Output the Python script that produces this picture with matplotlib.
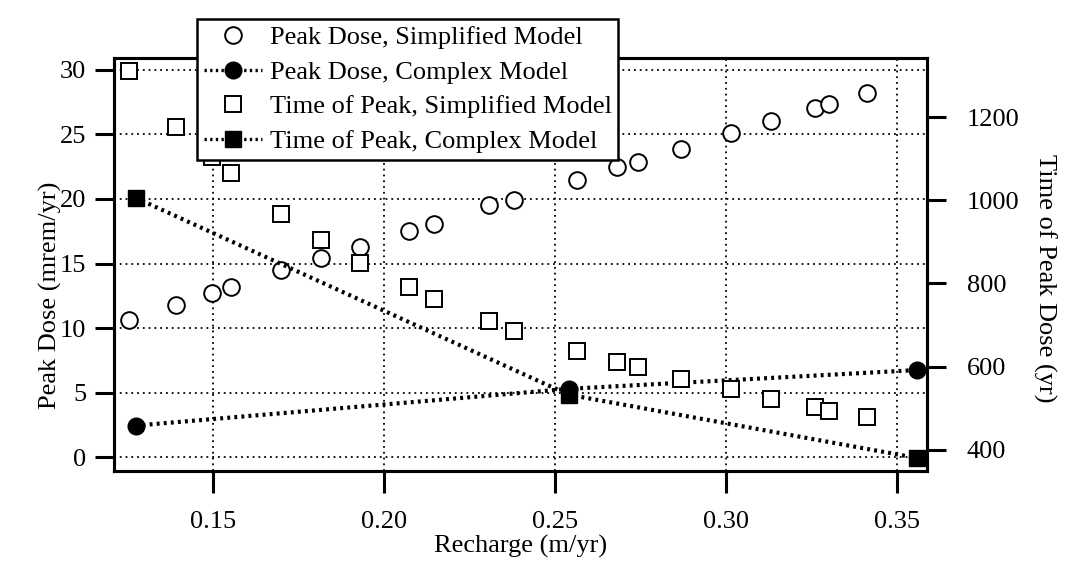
import matplotlib
matplotlib.use("Agg")
import matplotlib.pyplot as plt
from matplotlib.lines import Line2D

plt.rcParams['font.family'] = ['Liberation Serif', 'DejaVu Serif']
plt.rcParams['font.size'] = 19

# simplified model (circles: dose, squares: time of peak)
recharge = [0.1255, 0.1393, 0.1497, 0.1553, 0.1700, 0.1817, 0.1929, 0.2074,
            0.2147, 0.2308, 0.2380, 0.2565, 0.2681, 0.2741, 0.2869, 0.3013,
            0.3131, 0.3260, 0.3300, 0.3410]
dose_simple = [10.6, 11.8, 12.75, 13.15, 14.5, 15.45, 16.3, 17.55, 18.1, 19.5,
               19.95, 21.5, 22.5, 22.9, 23.9, 25.1, 26.0, 27.05, 27.35, 28.2]
time_simple = [1312, 1177, 1105, 1065, 966, 905, 849, 791, 763, 710, 686,
               638, 610, 598, 570, 545, 522, 502, 494, 479]

# complex model
recharge_complex = [0.1274, 0.2540, 0.3556]
dose_complex = [2.45, 5.3, 6.75]
time_complex = [1006, 532, 380]

x_ticks = [0.15, 0.20, 0.25, 0.30, 0.35]
dose_ticks = [0, 5, 10, 15, 20, 25, 30]
time_ticks = [400, 600, 800, 1000, 1200]

fig = plt.figure(figsize=(10.65, 5.65), dpi=100)
ax = fig.add_axes([0.107, 0.166, 0.763, 0.731])
ax2 = ax.twinx()

dots = (0, (1, 2.2))
ax.grid(True, linestyle=dots, color='black', linewidth=1.3)
ax.set_axisbelow(True)

cplx = (0, (0.7, 1.0))
ax.plot(recharge, dose_simple, linestyle='none', marker='o', ms=12,
        mfc='white', mec='black', mew=1.4)
ax.plot(recharge_complex, dose_complex, linestyle=cplx, lw=3.0,
        color='black', marker='o', ms=12)
ax2.plot(recharge, time_simple, linestyle='none', marker='s', ms=11.5,
         mfc='white', mec='black', mew=1.4)
ax2.plot(recharge_complex, time_complex, linestyle=cplx, lw=3.0,
         color='black', marker='s', ms=11.5)

ax.set_xlim(0.1211, 0.3585)
ax.set_ylim(-1.08, 30.9)
ax2.set_ylim(348, 1342)
ax.set_xticks(x_ticks)
ax.set_xticklabels(['%.2f' % v for v in x_ticks])
ax.set_yticks(dose_ticks)
ax2.set_yticks(time_ticks)

for a in (ax, ax2):
    for s in a.spines.values():
        s.set_linewidth(2.2)
    a.tick_params(length=14, width=2.2, direction='out', labelsize=19)
ax.tick_params(axis='x', length=16, pad=13)
ax.tick_params(axis='y', pad=6)
ax2.tick_params(axis='y', pad=15)

ax.set_xlabel('Recharge (m/yr)', fontsize=19, labelpad=1)
ax.set_ylabel('Peak Dose (mrem/yr)', fontsize=19, va='center', ha='center')
ax.yaxis.set_label_coords(-0.078, 0.426)
ax2.set_ylabel('Time of Peak Dose (yr)', fontsize=19, rotation=-90,
               va='center', ha='center')
ax2.yaxis.set_label_coords(1.145, 0.467)

handles = [
    Line2D([], [], linestyle='none', marker='o', ms=12, mfc='white', mec='black', mew=1.4),
    Line2D([], [], linestyle=cplx, lw=2.4, color='black', marker='o', ms=12),
    Line2D([], [], linestyle='none', marker='s', ms=11.5, mfc='white', mec='black', mew=1.4),
    Line2D([], [], linestyle=cplx, lw=2.4, color='black', marker='s', ms=11.5),
]
labels = ['Peak Dose, Simplified Model', 'Peak Dose, Complex Model',
          'Time of Peak, Simplified Model', 'Time of Peak, Complex Model']
leg = fig.legend(handles, labels, loc='upper left', bbox_to_anchor=(0.185, 0.966),
                 fontsize=19, frameon=True, fancybox=False, framealpha=1,
                 edgecolor='black', borderpad=0.25, labelspacing=0.42,
                 handlelength=2.2, handletextpad=0.3, borderaxespad=0)
leg.get_frame().set_linewidth(1.8)

fig.savefig('out.png', dpi=100)
